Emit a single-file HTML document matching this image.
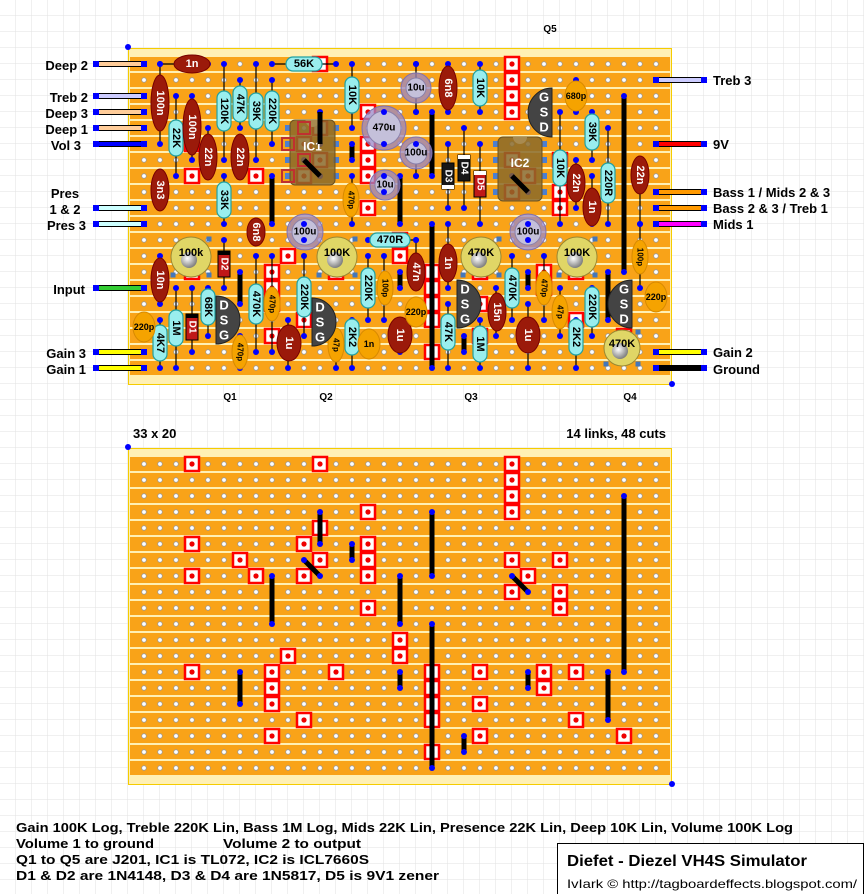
<!DOCTYPE html>
<html><head><meta charset="utf-8"><style>
html,body{margin:0;padding:0;background:#fff}
svg{display:block}
text{font-family:"Liberation Sans","DejaVu Sans",sans-serif;font-weight:bold}
</style></head><body>
<svg id="s" width="864" height="894" viewBox="0 0 864 894" xmlns="http://www.w3.org/2000/svg">
<defs>
<pattern id="grid" width="16" height="16" patternUnits="userSpaceOnUse"><path d="M16 0V16H0" fill="none" stroke="#e2e2e2" stroke-width="1"/></pattern>
<radialGradient id="knob" cx="0.4" cy="0.4" r="0.6"><stop offset="0" stop-color="#ffffff"/><stop offset="1" stop-color="#808080"/></radialGradient>
</defs>
<rect width="864" height="894" fill="url(#grid)"/>
<g id="b1"></g><g id="b2"></g><g id="comp"></g>
<g font-size="13" fill="#000">
<text x="88" y="70" text-anchor="end">Deep 2</text>
<text x="88" y="102" text-anchor="end">Treb 2</text>
<text x="88" y="118" text-anchor="end">Deep 3</text>
<text x="88" y="134" text-anchor="end">Deep 1</text>
<text x="81" y="150" text-anchor="end">Vol 3</text>
<text x="65" y="198" text-anchor="middle">Pres</text>
<text x="65" y="214" text-anchor="middle">1 &amp; 2</text>
<text x="86" y="230" text-anchor="end">Pres 3</text>
<text x="85" y="294" text-anchor="end">Input</text>
<text x="86" y="358" text-anchor="end">Gain 3</text>
<text x="86" y="374" text-anchor="end">Gain 1</text>
<text x="713" y="85">Treb 3</text>
<text x="713" y="149">9V</text>
<text x="713" y="197">Bass 1 / Mids 2 &amp; 3</text>
<text x="713" y="213">Bass 2 &amp; 3 / Treb 1</text>
<text x="713" y="229">Mids 1</text>
<text x="713" y="357">Gain 2</text>
<text x="713" y="374">Ground</text>
<text x="133" y="438">33 x 20</text>
<text x="666" y="438" text-anchor="end">14 links, 48 cuts</text>
</g>
<g font-size="10" fill="#000">
<text x="230" y="400" text-anchor="middle">Q1</text>
<text x="326" y="400" text-anchor="middle">Q2</text>
<text x="471" y="400" text-anchor="middle">Q3</text>
<text x="630" y="400" text-anchor="middle">Q4</text>
<text x="550" y="32" text-anchor="middle">Q5</text>
</g>
<g font-size="13" fill="#000">
<text x="16" y="832" textLength="777" lengthAdjust="spacingAndGlyphs">Gain 100K Log, Treble 220K Lin, Bass 1M Log, Mids 22K Lin, Presence 22K Lin, Deep 10K Lin, Volume 100K Log</text>
<text x="16" y="848" textLength="138" lengthAdjust="spacingAndGlyphs">Volume 1 to ground</text>
<text x="223" y="848" textLength="138" lengthAdjust="spacingAndGlyphs">Volume 2 to output</text>
<text x="16" y="864" textLength="353" lengthAdjust="spacingAndGlyphs">Q1 to Q5 are J201,  IC1 is TL072,  IC2 is ICL7660S</text>
<text x="16" y="880" textLength="423" lengthAdjust="spacingAndGlyphs">D1 &amp; D2 are 1N4148,  D3 &amp; D4 are 1N5817,  D5 is 9V1 zener</text>
</g>
<rect x="557.5" y="843.5" width="306" height="51" fill="#fff" stroke="#000"/>
<text x="567" y="866" font-size="16" textLength="240" lengthAdjust="spacingAndGlyphs">Diefet - Diezel VH4S Simulator</text>
<text x="567" y="888" font-size="12" style="font-weight:normal" textLength="290" lengthAdjust="spacingAndGlyphs">IvIark © http://tagboardeffects.blogspot.com/</text>
</svg>
<script>
var NS="http://www.w3.org/2000/svg";
function el(p,t,a,txt){var e=document.createElementNS(NS,t);for(var k in a)e.setAttribute(k,a[k]);if(txt!==undefined)e.textContent=txt;p.appendChild(e);return e;}
var cuts=[[3,0],[11,0],[14,3],[11,4],[3,5],[10,5],[14,5],[6,6],[11,6],[14,6],[3,7],[7,7],[10,7],[14,7],[14,9],[16,11],[16,12],[9,12],[3,13],[8,13],[12,13],[8,14],[8,15],[10,16],[8,17],
[23,0],[23,1],[23,2],[23,3],[23,6],[26,6],[24,7],[23,8],[26,8],[26,9],[18,13],[18,14],[18,15],[18,16],[18,18],[21,13],[21,15],[21,17],[25,13],[25,14],[27,13],[27,16],[30,17]];
var links=[[11,3,11,5],[13,5,13,6],[10,6,11,7],[8,7,8,10],[16,7,16,10],[6,13,6,15],[16,13,16,14],[18,3,18,7],[30,2,30,13],[23,7,24,8],[18,10,18,19],[24,13,24,14],[20,17,20,18],[29,13,29,16]];
function board(g,y0){
 el(g,"rect",{x:128.5,y:y0+0.5,width:543,height:336,fill:"#fff0b4",stroke:"#f5cc00"});
 for(var r=0;r<20;r++){el(g,"rect",{x:130,y:y0+9+16*r,width:540,height:14,fill:"#f9a318"});}
 for(var r=0;r<20;r++)for(var c=0;c<33;c++){el(g,"circle",{cx:144+16*c,cy:y0+16+16*r,r:2.3,fill:"#fff",stroke:"#999","stroke-width":0.8});}
 cuts.forEach(function(k){var x=144+16*k[0],y=y0+16+16*k[1];
  el(g,"rect",{x:x-7,y:y-7,width:14,height:14,fill:"#fff",stroke:"#f00","stroke-width":2.5});
  el(g,"circle",{cx:x,cy:y,r:2.6,fill:"#e00"});});
 links.forEach(function(l){var x1=144+16*l[0],y1=y0+16+16*l[1],x2=144+16*l[2],y2=y0+16+16*l[3];
  el(g,"line",{x1:x1,y1:y1,x2:x2,y2:y2,stroke:"#000","stroke-width":5});
  el(g,"circle",{cx:x1,cy:y1,r:3,fill:"#00f"});el(g,"circle",{cx:x2,cy:y2,r:3,fill:"#00f"});});
 el(g,"circle",{cx:128,cy:y0-1,r:3,fill:"#00f"});el(g,"circle",{cx:672,cy:y0+336,r:3,fill:"#00f"});
}
board(document.getElementById("b1"),48);
board(document.getElementById("b2"),448);
var G=document.getElementById("comp");
[[64,"#ffcc99"],[96,"#ccccff"],[112,"#ffcc99"],[128,"#ffcc99"],[144,"#0000ff"],[208,"#ccffff"],[224,"#ccffff"],[288,"#33cc33"],[352,"#ffff00"],[368,"#ffff00"]].forEach(function(w){
 el(G,"rect",{x:96,y:w[0]-2.5,width:48,height:5,fill:w[1],stroke:"#000","stroke-width":1});
 el(G,"rect",{x:93,y:w[0]-3,width:6,height:6,fill:"#00f"});el(G,"rect",{x:141,y:w[0]-3,width:6,height:6,fill:"#00f"});});
[[80,"#ccccff"],[144,"#ff0000"],[192,"#ff9900"],[208,"#ff9900"],[224,"#ff00ff"],[352,"#ffff00"],[368,"#000000"]].forEach(function(w){
 el(G,"rect",{x:656,y:w[0]-2.5,width:48,height:5,fill:w[1],stroke:"#000","stroke-width":1});
 el(G,"rect",{x:653,y:w[0]-3,width:6,height:6,fill:"#00f"});el(G,"rect",{x:701,y:w[0]-3,width:6,height:6,fill:"#00f"});});
function leads(x1,y1,x2,y2){el(G,"line",{x1:x1,y1:y1,x2:x2,y2:y2,stroke:"#000","stroke-width":1.2});
 el(G,"circle",{cx:x1,cy:y1,r:3,fill:"#00f"});el(G,"circle",{cx:x2,cy:y2,r:3,fill:"#00f"});}
function label(x,y,t,vert,size,col){el(G,"text",{x:0,y:0,"font-size":size,fill:col,"text-anchor":"middle","dominant-baseline":"central",transform:"translate("+x+","+y+")"+(vert?" rotate(90)":"")},t);}
function R(x1,y1,x2,y2,cx,cy,t){leads(x1,y1,x2,y2);var v=(x1==x2);var L=Math.max(36,t.length*8+8);
 if(v)el(G,"rect",{x:cx-7,y:cy-L/2,width:14,height:L,rx:7,fill:"#99eeee",stroke:"#22a0a0","stroke-width":1.2});
 else el(G,"rect",{x:cx-L/2,y:cy-7,width:L,height:14,rx:7,fill:"#99eeee",stroke:"#22a0a0","stroke-width":1.2});
 label(cx,cy,t,v,11,"#000");}
function F(x1,y1,x2,y2,cx,cy,t,rx,ry,hor){leads(x1,y1,x2,y2);var v=!hor;
 el(G,"ellipse",{cx:cx,cy:cy,rx:v?(rx||9):(ry||18),ry:v?(ry||20):(rx||9),fill:"#9b1a0a",stroke:"#700","stroke-width":1});
 label(cx,cy,t,v,11,"#fff");}
function C(x1,y1,x2,y2,cx,cy,t,hor){leads(x1,y1,x2,y2);
 el(G,"ellipse",{cx:cx,cy:cy,rx:hor?11:8,ry:hor?15:17,fill:"#f5a300",stroke:"#d88a00","stroke-width":1});
 label(cx,cy,t,!hor,hor?9:8,"#000");}
function E(x1,y1,x2,y2,cx,cy,t,r){leads(x1,y1,x2,y2);
 el(G,"circle",{cx:cx,cy:cy,r:r,fill:"#9a88c8","fill-opacity":0.75,stroke:"#8070b0"});
 el(G,"circle",{cx:cx,cy:cy,r:r-5,fill:"#c4c0da",stroke:"#8a80aa"});
 el(G,"circle",{cx:x1,cy:y1,r:3,fill:"#00f"});el(G,"circle",{cx:x2,cy:y2,r:3,fill:"#00f"});
 label(cx,cy,t,false,10,"#000");}
function P(cx,cy,t,r){r=r||20;
 el(G,"circle",{cx:cx,cy:cy,r:r,fill:"#e0d666",stroke:"#998833","stroke-width":1});
 el(G,"circle",{cx:cx-2,cy:cy+3,r:8,fill:"url(#knob)"});
 label(cx,cy-4,t,false,11,"#000");
 [[-r+2,r-2],[r-2,r-2],[r-2,-r+2]].forEach(function(p){el(G,"rect",{x:cx+p[0]-2.5,y:cy+p[1]-2.5,width:5,height:5,fill:"#4477bb"});});}
function D(x1,y1,x2,y2,cx,cy,t,col,band,bandTop){leads(x1,y1,x2,y2);
 el(G,"rect",{x:cx-6,y:cy-13,width:12,height:26,fill:col,stroke:"#000","stroke-width":1});
 el(G,"rect",{x:cx-6,y:bandTop?cy-13:cy+9,width:12,height:4,fill:band});
 label(cx,cy,t,true,10,"#fff");}
function Q(xf,xc,y1,y2,letters,flatLeft){var ry=(y2-y1)/2,w=Math.abs(xc-xf);
 var d=flatLeft?"M"+xf+","+y1+" A"+w+","+ry+" 0 0 1 "+xf+","+y2+" Z":"M"+xf+","+y1+" A"+w+","+ry+" 0 0 0 "+xf+","+y2+" Z";
 el(G,"path",{d:d,fill:"#444",stroke:"#222"});
 var lx=flatLeft?xf+8:xf-8;
 for(var i=0;i<3;i++)label(lx,y1+9+i*15,letters[i],false,13,"#fff");}
function IC(x,y,w,h,t,pinRows,c1,c2){
 for(var i=0;i<pinRows.length;i++){[c1,c2].forEach(function(px){el(G,"rect",{x:px-3,y:pinRows[i]-3,width:6,height:6,fill:"#4d7fd0"});});}
 el(G,"rect",{x:x,y:y,width:w,height:h,rx:5,fill:"#8a6a2a","fill-opacity":0.85,stroke:"#6b5020"});
 el(G,"path",{d:"M"+(x+w/2-7)+","+y+" a7,7 0 0 0 14,0",fill:"#a88a50"});
 label(x+w/2,y+h/2-6,t,false,12,"#fff");}
IC(290,120,45,65,"IC1",[128,144,160,176],288,336);
[[304,128],[288,144],[304,160],[288,176]].forEach(function(p){el(G,"rect",{x:p[0]-6,y:p[1]-6,width:12,height:12,fill:"none",stroke:"#c03030","stroke-width":2});});
el(G,"line",{x1:304,y1:160,x2:320,y2:176,stroke:"#000","stroke-width":5});
el(G,"line",{x1:320,y1:112,x2:320,y2:144,stroke:"#000","stroke-width":5});
IC(498,137,44,64,"IC2",[144,160,176,192],496,544);
el(G,"line",{x1:512,y1:176,x2:528,y2:192,stroke:"#000","stroke-width":5});
R(272,64,336,64,304,64,"56K");
R(176,96,176,176,176,138,"22K");
R(224,64,224,160,224,111,"120K");
R(240,80,240,128,240,104,"47K");
R(256,64,256,160,256,111,"39K");
R(272,80,272,144,272,111,"220K");
R(224,176,224,224,224,200,"33K");
R(256,256,256,352,256,304,"470K");
R(304,256,304,336,304,297,"220K");
R(208,288,208,336,208,307,"68K");
R(176,288,176,368,176,328,"1M");
R(160,320,160,368,160,343,"4K7");
R(352,320,352,368,352,337,"2K2");
R(368,240,416,240,390,240,"470R");
R(368,256,368,320,368,288,"220K");
R(352,64,352,128,352,95,"10K");
R(480,64,480,112,480,88,"10K");
R(592,112,592,160,592,132,"39K");
R(560,112,560,224,560,168,"10K");
R(608,128,608,224,608,183,"220R");
R(512,256,512,320,512,288,"470K");
R(448,304,448,368,448,332,"47K");
R(480,320,480,368,480,344,"1M");
R(576,320,576,368,576,337,"2K2");
R(592,288,592,336,592,307,"220K");
F(160,64,208,64,192,64,"1n",9,18,true);
F(160,64,160,144,160,103,"100n",9,28);
F(192,96,192,160,192,127,"100n",9,28);
F(208,128,208,176,208,157,"22n",9,23);
F(240,144,240,176,240,157,"22n",9,23);
F(160,176,160,208,160,190,"3n3",9,21);
F(256,224,256,240,256,232,"6n8",9,14);
F(160,256,160,304,160,280,"10n",9,22);
F(288,320,288,368,289,343,"1u",12,18);
F(400,320,400,352,400,335,"1u",12,18);
F(448,64,448,112,448,88,"6n8",9,22);
F(576,160,576,208,576,183,"22n",9,19);
F(592,176,592,224,592,207,"1n",9,19);
F(640,160,640,224,640,175,"22n",9,19);
F(416,240,416,288,416,272,"47n",9,19);
F(448,224,448,288,448,263,"1n",9,19);
F(496,288,496,336,497,312,"15n",9,19);
F(528,304,528,368,528,335,"1u",12,18);
C(144,320,144,336,144,327,"220p",true);
C(272,256,272,352,272,304,"470p");
C(240,336,240,368,240,352,"470p");
C(336,336,336,368,336,345,"47p");
C(368,336,368,352,369,344,"1n",true);
C(352,176,352,224,351,200,"470p");
C(384,256,384,320,385,288,"100p");
C(576,80,576,112,576,96,"680p",true);
C(544,256,544,320,544,288,"470p");
C(416,304,416,320,416,312,"220p",true);
C(560,288,560,336,560,312,"47p");
C(640,224,640,288,640,257,"100p");
C(656,288,656,304,656,297,"220p",true);
E(304,224,304,240,305,232,"100u",18);
E(384,176,384,192,385,185,"10u",15);
E(416,64,416,112,416,88,"10u",15);
E(384,112,384,144,384,128,"470u",22);
E(416,144,416,176,416,153,"100u",16);
E(528,224,528,240,528,232,"100u",18);
D(224,240,224,288,224,264,"D2","#c01818","#000",true);
D(192,288,192,352,192,327,"D1","#c01818","#000",true);
D(448,144,448,208,448,176,"D3","#181818","#fff",false);
D(464,128,464,208,464,168,"D4","#181818","#fff",true);
D(480,144,480,224,480,184,"D5","#c01818","#fff",true);
P(191,257,"100k");P(337,257,"100K");P(481,257,"470K");P(577,257,"100K");P(622,348,"470K",18);
Q(216,240,296,344,["D","S","G"],true);
Q(312,336,298,346,["D","S","G"],true);
Q(457,481,280,328,["D","S","G"],true);
Q(632,608,280,328,["G","S","D"],false);
Q(552,528,88,137,["G","S","D"],false);
</script>
</body></html>
